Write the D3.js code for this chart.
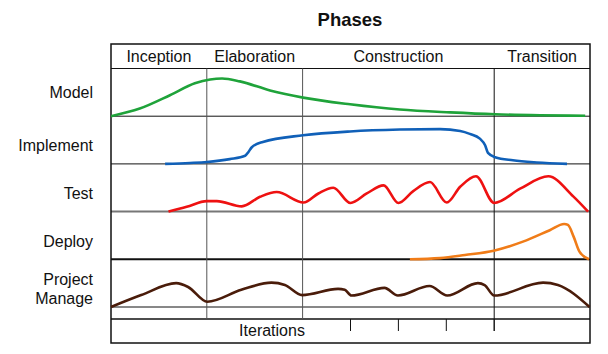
<!DOCTYPE html>
<meta charset="utf-8">
<script src="https://d3js.org/d3.v7.min.js"></script>
<style>
  body { margin: 0; background: #fff; }
  text { font-family: "Liberation Sans", Arial, sans-serif; fill: #111; }
</style>
<div id="chart"></div>
<script>

// phases along the project timeline (0 - 100 %)
var phases = ["Inception", "Elaboration", "Construction", "Transition"];
var phaseEnds = [20, 40, 80, 100];
var iterationTicks = [50, 60, 70, 80];

// disciplines (one row each)
var disciplines = ["Model", "Implement", "Test", "Deploy", "Project Manage"];

// effort curves: time (% of project) and intensity (share of row height)
var modelT = [0, 6, 12.3, 17.5, 20.7, 23.2, 26.9, 33.2, 40.1, 49.9, 60.3, 70.8, 80.2, 89.6, 99];
var modelV = [0, 0.16, 0.44, 0.69, 0.77, 0.79, 0.73, 0.54, 0.39, 0.25, 0.14, 0.08, 0.04, 0.02, 0.01];

var implementT = [11.3, 16.5, 20, 24.8, 28, 28.7, 29.4, 31.7, 40.1, 49.9, 60.3, 68.7, 72.9, 74.9, 77, 78.1, 78.7, 80.2, 83.9, 88.9, 95.2];
var implementV = [0, 0.02, 0.04, 0.1, 0.17, 0.25, 0.35, 0.46, 0.6, 0.68, 0.72, 0.73, 0.69, 0.63, 0.53, 0.39, 0.23, 0.14, 0.075, 0.03, 0];

var testT = [12, 15.8, 20, 22.1, 27.3, 31.1, 34.6, 40.2, 43.3, 46.4, 50, 53.4, 56.9, 60, 63.1, 66.6, 70.1, 72.9, 76.2, 80, 85.4, 91.3, 96.5, 99.6];
var testV = [0, 0.1, 0.22, 0.22, 0.11, 0.31, 0.41, 0.19, 0.38, 0.5, 0.18, 0.38, 0.55, 0.18, 0.43, 0.62, 0.19, 0.52, 0.74, 0.18, 0.48, 0.74, 0.32, 0];

var deployT = [62.4, 68.7, 73.9, 79.9, 86, 91.6, 94.6, 95.4, 96.6, 97.8, 99.8];
var deployV = [0, 0.025, 0.09, 0.18, 0.37, 0.61, 0.74, 0.72, 0.47, 0.16, 0];

var manageT = [0, 6.3, 13.6, 16.1, 20.1, 27.2, 33.5, 36.3, 39.9, 47.4, 48.8, 50.2, 57.1, 59.9, 66.5, 70.2, 76.6, 78, 80, 90.2, 93.3, 99.9];
var manageV = [0, 0.25, 0.5, 0.42, 0.11, 0.36, 0.51, 0.46, 0.25, 0.38, 0.36, 0.24, 0.4, 0.24, 0.44, 0.24, 0.5, 0.46, 0.24, 0.51, 0.46, 0];

var curveT = [modelT, implementT, testT, deployT, manageT];
var curveV = [modelV, implementV, testV, deployV, manageV];
var colors = ["#1fa33a", "#1060b8", "#ee1111", "#f07c18", "#4a1c0a"];

var W = 608, H = 354;
var svg = d3.select("#chart").append("svg")
    .attr("width", W)
    .attr("height", H);

var boxTop = 44, headBottom = 68.5, rowsBottom = 307, iterTop = 319, boxBottom = 343;

var x = d3.scaleLinear().domain([0, 100]).range([111, 590]);
var rows = d3.scaleBand().domain(disciplines).range([headBottom, rowsBottom]);

// title
svg.append("text")
    .attr("x", 350).attr("y", 26)
    .attr("text-anchor", "middle")
    .style("font-size", "18.5px").style("font-weight", "bold")
    .text("Phases");

// phase names in header row
var phaseStarts = [0].concat(phaseEnds.slice(0, -1));
svg.selectAll(".phase")
    .data(phases)
    .enter().append("text")
    .attr("class", "phase")
    .attr("x", function (d, i) { return x((phaseStarts[i] + phaseEnds[i]) / 2); })
    .attr("y", 62)
    .attr("text-anchor", "middle")
    .style("font-size", "16px")
    .text(function (d) { return d; });

// row separators
var grid = svg.append("g");
disciplines.forEach(function (d, i) {
  var yb = rows(d) + rows.bandwidth();
  var col = d == "Test" ? "#777" : "#111";
  var sw = d == "Test" || d == "Deploy" ? 2 : 1;
  grid.append("line")
      .attr("x1", x(0)).attr("x2", x(100))
      .attr("y1", yb).attr("y2", yb)
      .attr("stroke", col).attr("stroke-width", sw);
});
grid.append("line")
    .attr("x1", x(0)).attr("x2", x(100))
    .attr("y1", headBottom).attr("y2", headBottom)
    .attr("stroke", "#111").attr("stroke-width", 1);
grid.append("line")
    .attr("x1", x(0)).attr("x2", x(100))
    .attr("y1", iterTop).attr("y2", iterTop)
    .attr("stroke", "#111").attr("stroke-width", 1.3);

// phase boundaries
phaseEnds.slice(0, -1).forEach(function (p, i) {
  grid.append("line")
      .attr("x1", x(p)).attr("x2", x(p))
      .attr("y1", headBottom).attr("y2", i == 2 ? iterTop + 12 : iterTop)
      .attr("stroke", i == 2 ? "#111" : "#555").attr("stroke-width", 1);
});

// iteration ticks
grid.selectAll(".itick")
    .data(iterationTicks)
    .enter().append("line")
    .attr("x1", function (d) { return x(d); }).attr("x2", function (d) { return x(d); })
    .attr("y1", iterTop).attr("y2", iterTop + 12)
    .attr("stroke", "#111").attr("stroke-width", 1);

// outer box
svg.append("rect")
    .attr("x", x(0)).attr("y", boxTop)
    .attr("width", x(100) - x(0)).attr("height", boxBottom - boxTop)
    .attr("fill", "none").attr("stroke", "#111").attr("stroke-width", 1.5);

svg.append("text")
    .attr("x", 272).attr("y", 336)
    .attr("text-anchor", "middle")
    .style("font-size", "16px")
    .text("Iterations");

// row labels (the first one sits a bit higher in its row)
disciplines.forEach(function (d, i) {
  var words = d.split(" ");
  var cy = rows(d) + rows.bandwidth() / 2 + (i == 0 ? 0 : 5.5);
  var t = svg.append("text")
      .attr("text-anchor", "end")
      .style("font-size", "16px");
  words.forEach(function (w, j) {
    t.append("tspan")
        .attr("x", 93)
        .attr("y", cy + 5.8 + (j - (words.length - 1) / 2) * 19)
        .text(w);
  });
});

// effort curves
disciplines.forEach(function (d, i) {
  var y = d3.scaleLinear().domain([0, 1])
      .range([rows(d) + rows.bandwidth(), rows(d)]);
  var pts = d3.zip(curveT[i], curveV[i]);
  var line = d3.line()
      .x(function (p) { return x(p[0]); })
      .y(function (p) { return y(p[1]); })
      .curve(d3.curveMonotoneX);
  svg.append("path")
      .datum(pts)
      .attr("d", line)
      .attr("fill", "none")
      .attr("stroke", colors[i])
      .attr("stroke-width", 2.6)
      .attr("stroke-linejoin", "round");
});

</script>
